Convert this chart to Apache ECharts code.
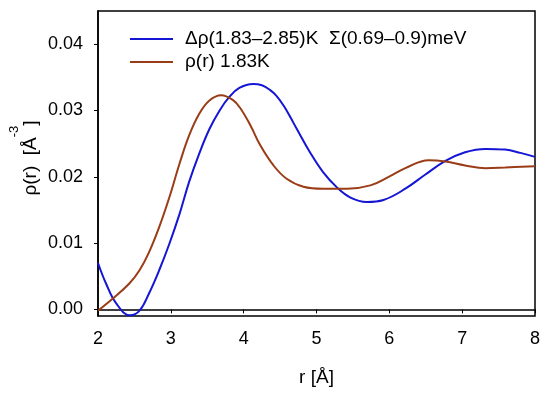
<!DOCTYPE html>
<html>
<head>
<meta charset="utf-8">
<script src="https://cdn.jsdelivr.net/npm/echarts@6/dist/echarts.min.js"></script>
<style>html,body{margin:0;padding:0;background:#fff}#c{width:550px;height:393px}</style>
</head>
<body>
<div id="c"></div>
<script>
const seriesNames = ['\u0394\u03c1(1.83\u20132.85)K  \u03a3(0.69\u20130.9)meV', '\u03c1(r) 1.83K'];
const rDelta = [2.00, 2.11, 2.25, 2.44, 2.57, 2.70, 2.84, 2.98, 3.12, 3.25, 3.39, 3.53, 3.67, 3.80, 3.94, 4.13, 4.25, 4.36, 4.45, 4.55, 4.64, 4.73, 4.91, 5.09, 5.28, 5.46, 5.69, 5.92, 6.22, 6.49, 6.77, 7.04, 7.32, 7.59, 7.80, 8.00];
const vDelta = [0.0070, 0.0039, 0.0009, -0.0009, -0.0002, 0.0024, 0.0059, 0.0099, 0.0144, 0.0192, 0.0235, 0.0272, 0.0300, 0.0320, 0.0334, 0.0340, 0.0338, 0.0331, 0.0322, 0.0307, 0.0290, 0.0272, 0.0237, 0.0207, 0.0184, 0.0169, 0.0162, 0.0165, 0.0182, 0.0203, 0.0224, 0.0237, 0.0242, 0.0241, 0.0236, 0.0230];
const rRho = [2.00, 2.20, 2.43, 2.57, 2.70, 2.84, 2.98, 3.12, 3.25, 3.39, 3.53, 3.69, 3.85, 3.95, 4.09, 4.23, 4.41, 4.59, 4.82, 5.09, 5.42, 5.74, 6.01, 6.22, 6.54, 6.77, 7.04, 7.32, 7.59, 8.00];
const vRho = [-0.0002, 0.0016, 0.0039, 0.0059, 0.0086, 0.0124, 0.0169, 0.0220, 0.0262, 0.0295, 0.0315, 0.0323, 0.0316, 0.0304, 0.0278, 0.0247, 0.0217, 0.0197, 0.0185, 0.0182, 0.0182, 0.0187, 0.0201, 0.0213, 0.0225, 0.0223, 0.0217, 0.0213, 0.0214, 0.0216];
const yTicks = [0, 0.01, 0.02, 0.03, 0.04];
const xLabel = 'r [\u00c5]';

const FONT = '"Liberation Sans", Arial, sans-serif';
const chart = echarts.init(document.getElementById('c'), null, {renderer: 'canvas'});
const zip = (a, b) => a.map((x, i) => [x, b[i]]);
chart.setOption({
  animation: false,
  backgroundColor: '#fff',
  textStyle: {fontFamily: FONT, color: '#000'},
  grid: {left: 98, right: 15, top: 11, bottom: 77, show: true, borderColor: '#000', borderWidth: 1.5, backgroundColor: 'transparent'},
  legend: {
    show: true, orient: 'vertical', left: 130, top: 29, itemGap: 3, padding: 0,
    itemWidth: 43, itemHeight: 2, icon: 'rect',
    textStyle: {fontFamily: FONT, fontSize: 19, color: '#000', lineHeight: 20, padding: [0, 0, 0, 7]},
    data: seriesNames.map(n => ({name: n}))
  },
  xAxis: {
    type: 'value', min: 2, max: 8, interval: 1,
    name: xLabel, nameLocation: 'middle', nameGap: 52,
    nameTextStyle: {fontFamily: FONT, fontSize: 19, color: '#000'},
    axisLine: {show: true, lineStyle: {color: '#000', width: 1.5}},
    axisTick: {show: true, inside: false, length: 4, lineStyle: {color: '#000', width: 1}},
    axisLabel: {fontFamily: FONT, fontSize: 18, color: '#000', margin: 14},
    splitLine: {show: false}
  },
  yAxis: {
    type: 'value', min: -0.001, max: 0.045,
    axisLine: {show: true, lineStyle: {color: '#000', width: 1.5}},
    axisTick: {show: true, inside: false, length: 4, customValues: yTicks, lineStyle: {color: '#000', width: 1}},
    axisLabel: {fontFamily: FONT, fontSize: 18, color: '#000', margin: 15, customValues: yTicks, formatter: v => v.toFixed(2)},
    splitLine: {show: false}
  },
  graphic: [{
    type: 'text', x: 24, y: 158, rotation: Math.PI / 2,
    style: {
      text: '{a|\u03c1(r)  [\u00c5}{s|-3}{a|]}',
      align: 'center', verticalAlign: 'middle', fill: '#000',
      rich: {
        a: {fontFamily: FONT, fontSize: 19, lineHeight: 32, verticalAlign: 'bottom', fill: '#000'},
        s: {fontFamily: FONT, fontSize: 13, lineHeight: 32, verticalAlign: 'top', fill: '#000'}
      }
    }
  }],
  series: [
    {name: seriesNames[0], type: 'line', data: zip(rDelta, vDelta), smooth: 0.4, showSymbol: false, symbol: 'none',
     lineStyle: {color: '#1515d5', width: 2}, itemStyle: {color: '#1515d5'}, clip: true},
    {name: seriesNames[1], type: 'line', data: zip(rRho, vRho), smooth: 0.4, showSymbol: false, symbol: 'none',
     lineStyle: {color: '#9a3c16', width: 2}, itemStyle: {color: '#9a3c16'}, clip: true}
  ]
});
</script>
</body>
</html>
